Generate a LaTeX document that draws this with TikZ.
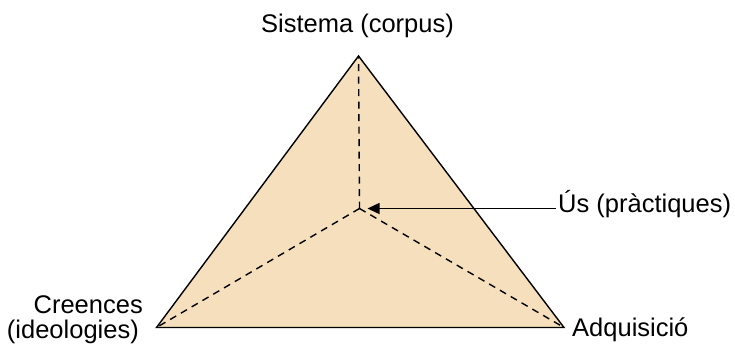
\documentclass[tikz,border=0pt]{standalone}
\usepackage{fontspec}
\setmainfont{Liberation Sans}
\usetikzlibrary{arrows.meta}
\definecolor{tri}{RGB}{245,223,188}
\tikzset{
  lbl/.style={inner sep=0pt, font=\fontsize{25.5}{25.5}\selectfont},
  edgeline/.style={line width=1.4pt, draw=black},
  dashline/.style={line width=1.4pt, dash pattern=on 7pt off 5.5pt},
  pointer/.style={line width=1.5pt, -{Triangle[length=12pt,width=11pt]}}
}
\begin{document}
\begin{tikzpicture}[x=1pt,y=-1pt]
\useasboundingbox (0,0) rectangle (735,349);
\coordinate (top) at (358.5,56);
\coordinate (bl) at (156.5,327.5);
\coordinate (br) at (564,327.5);
\coordinate (c) at (359.5,208.5);
\coordinate (usstart) at (556,208.5);
\fill[tri] (top) -- (br) -- (bl) -- cycle;
\draw[dashline] (c) -- (top);
\draw[dashline] (c) -- (bl);
\draw[dashline] (c) -- (br);
\draw[edgeline, line join=miter] (top) -- (br) -- (bl) -- cycle;
\draw[pointer, shorten >=8pt] (usstart) -- (c);
\node[lbl, anchor=base] (sis) at (357.5,32) {Sistema (corpus)};
\node[lbl, anchor=base west] (us) at (558,212) {Ús (pràctiques)};
\node[lbl, anchor=base west] (adq) at (572,336) {Adquisició};
\node[lbl, anchor=base east] (cre) at (143,313) {Creences};
\node[lbl, anchor=base east] (ideo) at (139,338) {(ideologies)};
\end{tikzpicture}
\end{document}
